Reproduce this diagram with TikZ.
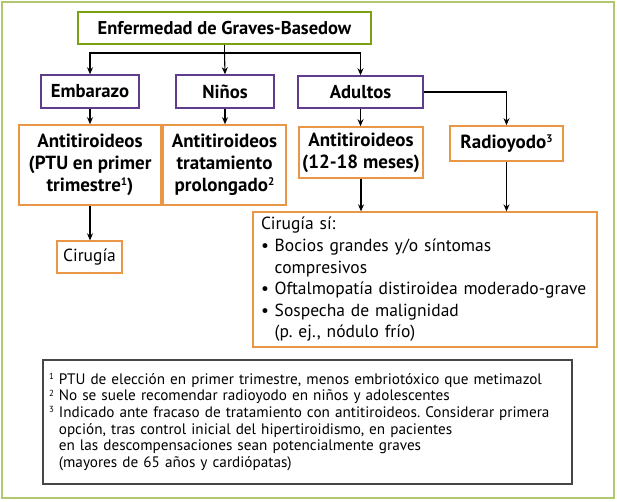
\documentclass[tikz,border=0pt]{standalone}
\usepackage{fontspec}
\usepackage{graphicx}
\setmainfont{PT Sans}
\usetikzlibrary{arrows.meta}
\definecolor{frameG}{RGB}{176,200,110}
\definecolor{topG}{RGB}{122,160,20}
\definecolor{purp}{RGB}{95,60,140}
\definecolor{oran}{RGB}{233,150,70}
\definecolor{fnG}{RGB}{70,70,70}
\frenchspacing
\newcommand\supn[1]{\raisebox{0.62ex}{\scalebox{0.58}{#1}}}
\tikzset{
  topbox/.style={draw=topG, line width=1.5pt, font=\fontsize{18.5}{22}\selectfont\bfseries, inner sep=0pt},
  grpbox/.style={draw=purp, line width=1.5pt, font=\fontsize{18.7}{22}\selectfont\bfseries, inner sep=0pt},
  trtbox/.style={draw=oran, line width=1.6pt, font=\fontsize{19}{22}\selectfont\bfseries, inner sep=0pt, align=center},
  txtbox/.style={draw=oran, line width=1.3pt, font=\fontsize{17.5}{21.6}\selectfont, inner sep=0pt},
  arr/.style={-{Stealth[length=7pt,width=6pt]}, line width=1.1pt, black},
}
\begin{document}
\begin{tikzpicture}[x=1pt,y=-1pt]
\useasboundingbox (0,0) rectangle (617,502);
\draw[frameG, line width=2pt] (2,2) rectangle (614,498);

\node[topbox, minimum width=293pt, minimum height=32pt] (top) at (224.5,28) {Enfermedad de Graves-Basedow};
\node[grpbox, minimum width=98pt, minimum height=33pt] (emb) at (90,91.5) {Embarazo};
\node[grpbox, minimum width=98pt, minimum height=33pt] (nin) at (225,91.5) {Niños};
\node[grpbox, minimum width=125pt, minimum height=32pt] (adu) at (360.5,92) {Adultos};

\node[trtbox, minimum width=142pt, minimum height=80pt] (ptu) at (90,165) {Antitiroideos\\(PTU en primer\\trimestre\supn{1})};
\node[trtbox, minimum width=123pt, minimum height=80pt] (pro) at (224.5,165) {Antitiroideos\\tratamiento\\prolongado\supn{2}};
\node[trtbox, minimum width=124pt, minimum height=51pt] (ant) at (361,152.5) {Antitiroideos\\(12-18 meses)};
\node[trtbox, minimum width=113pt, minimum height=35pt] (rad) at (506.5,143.5) {Radioyodo\supn{3}};

\node[txtbox, minimum width=65pt, minimum height=32pt] (cir) at (89.5,257) {Cirugía};
\node[txtbox, minimum width=344pt, minimum height=135pt, text width=328pt, inner xsep=8pt, align=left] (cis) at (425,279.5) {Cirugía sí:\\
\textbullet{} Bocios grandes y/o síntomas\\
\phantom{\textbullet{} }compresivos\\
\textbullet{} Oftalmopatía distiroidea moderado-grave\\
\textbullet{} Sospecha de malignidad\\
\phantom{\textbullet{} }(p. ej., nódulo frío)};

\node[draw=fnG, line width=1.4pt, minimum width=529pt, minimum height=124pt, text width=517pt, inner xsep=6pt, align=left, font=\fontsize{15.2}{16.6}\selectfont] (fn) at (307.5,422) {\supn{1} PTU de elección en primer trimestre, menos embriotóxico que metimazol\\
\supn{2} No se suele recomendar radioyodo en niños y adolescentes\\
\supn{3} Indicado ante fracaso de tratamiento con antitiroideos. Considerar primera\\
\phantom{\supn{3} }opción, tras control inicial del hipertiroidismo, en pacientes\\
\phantom{\supn{3} }en las descompensaciones sean potencialmente graves\\
\phantom{\supn{3} }(mayores de 65 años y cardiópatas)};

\coordinate (split) at (224.5,53);
\draw[line width=1.1pt] (top.south) -- (split);
\draw[arr] (split) -| (emb.north);
\draw[arr] (split) -- (nin.north);
\draw[arr] (split) -| (adu.north);
\draw[arr] (adu.east) -| (rad.north);
\draw[arr] (emb.south) -- (ptu.north -| emb.south);
\draw[arr] (nin.south) -- (pro.north -| nin.south);
\draw[arr] (adu.south) -- (ant.north -| adu.south);
\draw[arr] (ptu.south -| emb.south) -- (cir.north -| emb.south);
\draw[arr] (ant.south) -- (cis.north -| ant.south);
\draw[arr] (rad.south) -- (cis.north -| rad.south);
\end{tikzpicture}
\end{document}
